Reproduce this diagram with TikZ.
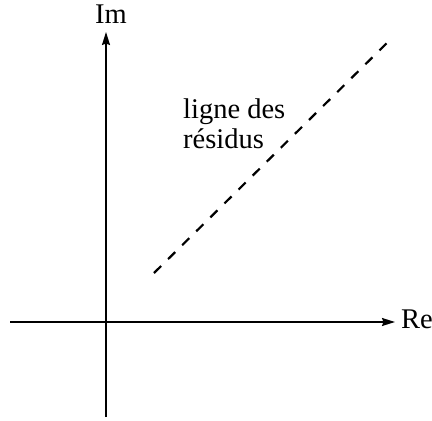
\documentclass[tikz,border=0pt]{standalone}
\usepackage{fontspec}
\setmainfont{Liberation Serif}
\usetikzlibrary{arrows.meta}
\begin{document}
\begin{tikzpicture}[x=1pt,y=-1pt,
  axis/.style={line width=1.4pt,-{Stealth[length=13pt,width=8pt,inset=1.5pt]}},
  resline/.style={line width=2.2pt,dash pattern=on 10pt off 9.8pt},
  lbl/.style={inner sep=0pt,font=\fontsize{28.5}{30}\selectfont}]
\useasboundingbox (0,0) rectangle (432,421);
\coordinate (xs) at (10,322);
\coordinate (xe) at (395,322);
\coordinate (ys) at (106,417);
\coordinate (ye) at (106,32);
\coordinate (ds) at (154,273);
\coordinate (de) at (392,38);
\draw[axis] (xs) -- (xe);
\draw[axis] (ys) -- (ye);
\draw[resline] (ds) -- (de);
\node[lbl,anchor=base] (im) at (111,23) {Im};
\node[lbl,anchor=base west] (re) at (401,328) {Re};
\node[lbl,anchor=base west,align=left] (lr) at (183,148) {ligne des\\résidus};
\end{tikzpicture}
\end{document}
